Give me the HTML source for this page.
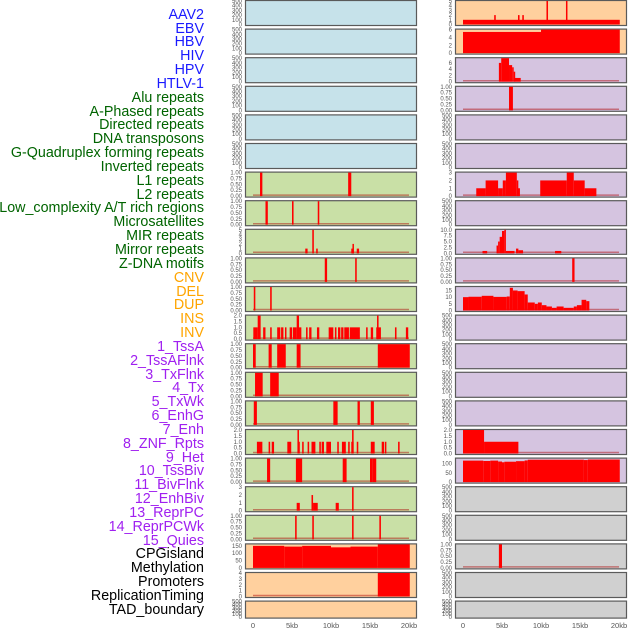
<!DOCTYPE html>
<html><head><meta charset="utf-8">
<style>
html,body{margin:0;padding:0;background:#fff;width:630px;height:630px;overflow:hidden}
#labels{position:absolute;left:0;top:0;width:204px;height:630px}
.lab{position:absolute;right:0;font-family:"Liberation Sans",sans-serif;font-size:14.3px;line-height:14px;white-space:nowrap;text-align:right}
svg{position:absolute;left:0;top:0}
</style></head>
<body>
<div id="labels"></div>
<svg id="chart" width="630" height="630"></svg>
<script>
const trackNames=["AAV2","EBV","HBV","HIV","HPV","HTLV-1","Alu repeats","A-Phased repeats","Directed repeats","DNA transposons","G-Quadruplex forming repeats","Inverted repeats","L1 repeats","L2 repeats","Low_complexity A/T rich regions","Microsatellites","MIR repeats","Mirror repeats","Z-DNA motifs","CNV","DEL","DUP","INS","INV","1_TssA","2_TssAFlnk","3_TxFlnk","4_Tx","5_TxWk","6_EnhG","7_Enh","8_ZNF_Rpts","9_Het","10_TssBiv","11_BivFlnk","12_EnhBiv","13_ReprPC","14_ReprPCWk","15_Quies","CPGisland","Methylation","Promoters","ReplicationTiming","TAD_boundary"];
const labelColors=["#1a1aff","#006400","#ffa500","#a020f0","#000000"];
const labelGroup=[0,0,0,0,0,0,1,1,1,1,1,1,1,1,1,1,1,1,1,2,2,2,2,2,3,3,3,3,3,3,3,3,3,3,3,3,3,3,3,4,4,4,4,4];
const panelBgColors=["#c6e2ea","#c9e0a6","#ffd09e","#d5c4e0","#d0d0d0"];
const panelGroup=[0,0,0,0,0,0,1,1,1,1,1,1,1,1,1,1,1,1,1,2,2,2,2,2,3,3,3,3,3,3,3,3,3,3,3,3,3,3,3,4,4,4,4,4];
const T500=[0,100,200,300,400,500], T1=[0,0.25,0.5,0.75,1];
const panelTicks=[T500,T500,T500,T500,T500,T500,T1,T1,[0,1,2,3,4,5],T1,T1,[0,0.5,1,1.5,2],T1,T1,T1,[0,0.5,1,1.5,2],T1,[0,1,2,3],T1,[0,50,100,150],[0,1,2,3,4],T500,
[0,1,2,3,4,5],[0,2,4,6],[0,2,4,6],T1,T500,T500,[0,1,2,3],T500,[0,2.5,5,7.5,10],T1,[0,5,10,15],T500,T500,T500,T500,[0,0.5,1,1.5,2],[0,50,100],T500,T500,T1,T500,T500];
const panelYmax=[500,500,500,500,500,500,1,1,5,1,1,2,1,1,1,2,1,3,1,160,4,500,5,6,7.5,1,500,500,3,500,10,1,17.6,500,500,500,500,2,128,500,500,1,500,500];
const panelBars=[[],[],[],[],[],[],
[[0.9,1.2,1],[12.2,12.6,1]],
[[1.6,1.9,1],[5.0,5.2,1],[8.3,8.5,1]],
[[6.7,7.0,1],[7.6,7.8,5],[8.1,8.3,1],[12.6,12.9,1],[12.75,12.85,2],[13.3,13.6,1]],
[[9.2,9.5,1],[13.1,13.3,1]],
[[0.1,0.3,1],[2.2,2.4,1]],
[[0.04,0.6,1],[0.6,0.98,2],[1.3,1.6,1],[2.2,2.4,1],[3.1,3.5,1],[3.6,3.9,1],[4.1,4.2,1],[4.7,5.0,1],[5.1,5.6,1],[5.6,5.9,2],[5.9,6.2,1],[6.8,7.0,1],[7.2,7.5,1],[8.2,8.5,1],[9.7,10.3,1],[10.5,10.7,1],[10.9,11.2,1],[11.3,11.6,1],[11.7,12.3,1],[12.4,13.7,1],[14.5,14.7,1],[15.1,15.4,1],[15.8,16.4,1],[15.9,16.1,2],[18.2,18.4,1],[19.6,19.9,1]],
[[0,0.35,1],[2.0,2.4,1],[3.1,4.2,1],[5.6,6.1,1],[16.0,20.1,1]],
[[0.26,1.24,1],[2.2,3.3,1]],
[[0.1,0.5,1],[10.3,10.85,1],[13.4,13.7,1],[15.1,15.5,1]],
[[0.5,1.2,1],[2.0,2.2,1],[2.4,2.7,1],[4.4,4.9,1],[5.7,5.85,2],[5.7,6.0,1],[6.3,6.5,1],[7.0,7.2,1],[7.5,8.0,1],[8.5,8.7,1],[8.8,9.1,1],[9.4,10.0,1],[10.8,11.0,1],[11.4,11.9,1],[12.2,12.4,1],[12.6,12.9,1],[12.7,12.9,2],[13.3,13.5,1],[15.1,15.6,1],[16.5,16.8,1],[16.9,17.1,1],[18.6,18.8,1]],
[[1.8,2.2,1],[5.5,6.3,1],[11.5,12.0,1],[15.0,15.3,1],[15.3,15.8,1]],
[[5.6,6.0,1],[7.5,7.7,2],[7.7,8.3,1],[10.6,11.0,1],[12.7,12.9,3]],
[[5.4,5.6,1],[7.6,7.8,1],[12.7,12.9,1],[16.2,16.4,1]],
[[0,4,150],[4,6.3,145],[6.3,10,150],[10,12.5,140],[12.5,16,145],[16,20.1,170]],
[[16,20.1,4]],
[],
[[0,20.1,1],[4.0,4.2,2],[7.05,7.25,2],[7.6,7.8,2],[10.7,10.9,5],[13.2,13.35,5]],
[[0,10,5.4],[10,20.1,6]],
[[4.6,4.9,6],[4.9,5.9,7.5],[5.9,6.3,5.3],[6.3,6.5,4.6],[6.5,6.6,3.2],[6.6,7.4,1.2]],
[[5.9,6.4,1]],
[],[],
[[1.7,2.9,1],[2.9,4.5,2],[4.5,5.1,1],[5.1,5.5,2],[5.5,6.9,3],[6.9,7.0,2],[7.0,7.3,1],[9.9,13.3,2],[13.3,14.2,3],[14.2,15.6,2],[15.6,17.1,1]],
[],
[[2.5,3.1,1],[4.3,4.5,3.3],[4.5,4.7,5],[4.7,5.0,7],[5.0,5.3,9.5],[5.3,5.5,10],[5.5,6.6,1],[6.8,7.1,2],[7.1,7.7,1.3],[11.8,12.6,1]],
[[14.0,14.3,1]],
[[0,0.7,10],[0.7,2.4,10.3],[2.4,3.9,11],[3.9,5.6,10.2],[5.6,6.0,10.5],[6.0,6.4,17],[6.4,7.0,15],[7.0,7.9,14.5],[7.9,8.3,12],[8.3,9.2,6],[9.2,9.6,5],[9.6,10.1,6],[10.1,10.7,4],[10.7,11.4,3],[11.4,12.0,2],[12.0,12.9,3],[12.9,14.2,2],[14.2,14.6,3],[14.6,15.2,4],[15.2,15.8,8],[15.8,16.2,7]],
[],[],[],[],
[[0,2.7,2],[2.7,7.1,1]],
[[0,2.6,117],[2.6,3.5,115],[3.5,4.5,117],[4.5,5.0,112],[5.0,5.3,108],[5.3,6.8,111],[6.8,7.9,114],[7.9,8.3,118],[8.3,15.5,122],[15.5,16,120],[16,20.1,123]],
[],[],
[[4.6,5.0,1]],
[],[]];
const xTicks=[0,5,10,15,20];
const xTickLabels=["0","5kb","10kb","15kb","20kb"];

const NS="http://www.w3.org/2000/svg";
const svg=document.getElementById('chart');
const labDiv=document.getElementById('labels');
function mk(tag,attrs,parent){const e=document.createElementNS(NS,tag);for(const k in attrs)e.setAttribute(k,attrs[k]);(parent||svg).appendChild(e);return e;}
function fmt(v,ticks){const dec=ticks.some(t=>Math.round(t*100)%100!==0&&Math.round(t*100)%50!==0)?2:(ticks.some(t=>t%1!==0)?1:0);return v.toFixed(dec);}

trackNames.forEach((n,i)=>{
  const d=document.createElement('div');
  d.className='lab';
  d.textContent=n;
  d.style.top=(15+i*13.84-7.3)+'px';
  d.style.color=labelColors[labelGroup[i]];
  
  
  labDiv.appendChild(d);
});

const colX=[245,455], colW=171;
function xScale(col,kb){return colX[col]+8+kb*7.8;}
trackNames.forEach((n,i)=>{
  const col=i<22?0:1, row=i%22;
  const top=row*28.6, h=row===21?17:25;
  const g=mk('g',{});
  
  
  mk('rect',{x:colX[col]+0.5,y:top+0.5,width:colW,height:h,fill:panelBgColors[panelGroup[i]],stroke:'#5a5a5a','stroke-width':1.2},g);
  const ymax=panelYmax[i];
  const y0=top+h-0.5, y1=top+1;
  const yS=v=>y0-(Math.min(v,ymax)/ymax)*(y0-y1);
  const bars=panelBars[i];
  if(bars.length){
    const bl=mk('line',{x1:xScale(col,0),x2:xScale(col,20),y1:y0-1,y2:y0-1,stroke:'rgba(170,0,0,0.45)','stroke-width':1.5},g);
    
    
  }
  bars.forEach(b=>{
    const x=xScale(col,b[0]), w=Math.max(1.5,xScale(col,b[1])-x);
    const r=mk('rect',{x:x,y:yS(b[2]),width:w,height:y0-yS(b[2]),fill:'#ff0000'},g);
    
    
  });
  panelTicks[i].forEach(t=>{
    const tx=mk('text',{x:colX[col]-3,y:yS(t)+2,'font-size':6,'font-family':'Liberation Sans, sans-serif',fill:'#555','text-anchor':'end'},g);
    tx.textContent=fmt(t,panelTicks[i]);
    
    
  });
});
[0,1].forEach(col=>{
  xTicks.forEach((t,j)=>{
    const tx=mk('text',{x:xScale(col,t),y:628,'font-size':7.5,'font-family':'Liberation Sans, sans-serif',fill:'#555','text-anchor':'middle'});
    tx.textContent=xTickLabels[j];
    
    
  });
});
</script>
</body></html>
